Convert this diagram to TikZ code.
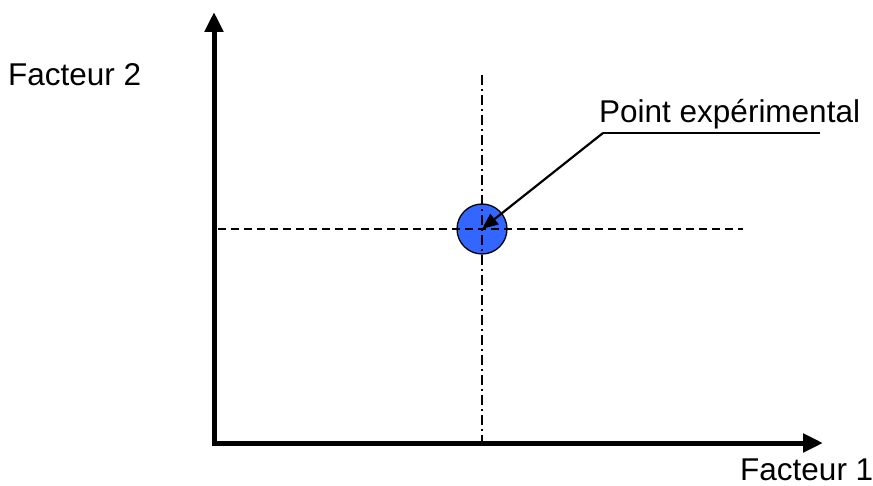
\documentclass[tikz,border=0pt]{standalone}
\usepackage{fontspec}
\setmainfont{Liberation Sans}
\usetikzlibrary{arrows.meta}
\definecolor{ptblue}{RGB}{51,102,255}
\tikzset{
  axis/.style={line width=5pt,-{Triangle[length=20pt,width=18pt]}},
  lbl/.style={anchor=base west,inner sep=0pt,font=\fontsize{31.5}{36}\selectfont},
  guideh/.style={line width=1.3pt,dash pattern=on 8pt off 5pt},
  guidev/.style={line width=1.3pt,dash pattern=on 10pt off 4pt on 2pt off 4pt},
  leader/.style={line width=2.2pt},
}
\begin{document}
\begin{tikzpicture}[x=1pt,y=-1pt]
\useasboundingbox (0,0) rectangle (873,486);
\coordinate (O) at (214,443);
\coordinate (Ytip) at (214,12);
\coordinate (Xtip) at (823,443);
\coordinate (Hs) at (218,229);
\coordinate (He) at (743,229);
\coordinate (Vs) at (482,75);
\coordinate (Ve) at (482,443);
\node[circle,draw=black,line width=1.3pt,fill=ptblue,minimum size=50pt,inner sep=0pt] (pt) at (482,229) {};
\draw[guideh] (Hs) -- (He);
\draw[guidev] (Vs) -- (Ve);
\draw[axis] ([yshift=2.5pt]O) -- (Ytip);
\draw[axis] ([xshift=-2.5pt]O) -- (Xtip);
\node[lbl] (f2) at (8,86) {Facteur 2};
\node[lbl] (f1) at (740,480) {Facteur 1};
\node[lbl] (pe) at (599,123) {Point expérimental};
\coordinate (knee) at (603,133);
\coordinate (lend) at (820,133);
\draw[leader] (lend) -- (knee);
\draw[leader,-{Triangle[length=16pt,width=13pt]}] (knee) -- (pt.center);
\end{tikzpicture}
\end{document}
